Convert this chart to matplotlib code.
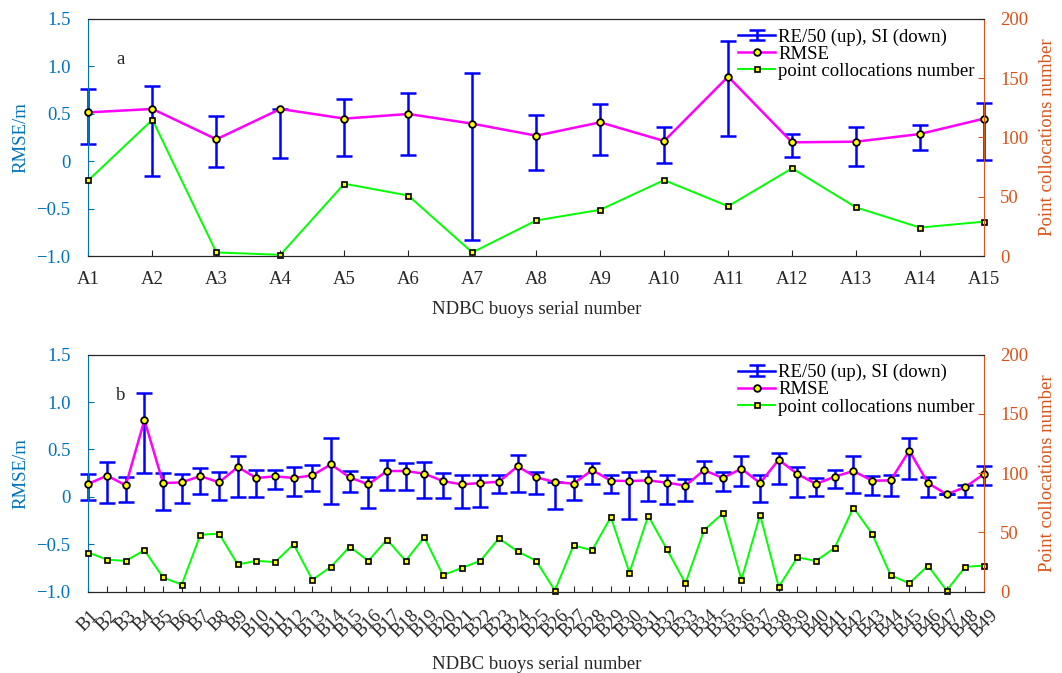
import numpy as np
import matplotlib
matplotlib.use('Agg')
import matplotlib.pyplot as plt
from matplotlib.lines import Line2D
from matplotlib.container import ErrorbarContainer
from matplotlib.legend_handler import HandlerTuple, HandlerErrorbar

plt.rcParams['font.family'] = ['Liberation Serif', 'DejaVu Serif']
plt.rcParams['font.size'] = 13.5

# 颜色 (MATLAB 风格)
C_LEFT = '#0072BD'
C_RIGHT = '#D95319'
C_AX = '#262626'

# ---- (a) A 组浮标 ----
a_names = ['A%d' % i for i in range(1, 16)]
a_rmse = [0.515, 0.551, 0.231, 0.551, 0.449, 0.498, 0.396, 0.269, 0.410, 0.213,
          0.892, 0.199, 0.206, 0.287, 0.449]
a_re_up = [0.243, 0.242, 0.242, 0.0, 0.207, 0.218, 0.534, 0.218, 0.193, 0.151,
           0.376, 0.084, 0.155, 0.095, 0.168]
a_si_down = [0.334, 0.704, 0.296, 0.517, 0.394, 0.429, 1.224, 0.365, 0.348, 0.232,
             0.626, 0.155, 0.260, 0.172, 0.440]
a_count = [64, 115, 3, 1, 61, 51, 3, 30, 39, 64, 42, 74, 41, 24, 29]

# ---- (b) B 组浮标 ----
b_names = ['B%d' % i for i in range(1, 50)]
b_rmse = [0.139, 0.224, 0.122, 0.811, 0.146, 0.153, 0.220, 0.153, 0.315, 0.199,
          0.217, 0.199, 0.227, 0.343, 0.206, 0.132, 0.273, 0.273, 0.245, 0.167,
          0.132, 0.146, 0.160, 0.322, 0.206, 0.157, 0.139, 0.283, 0.171, 0.167,
          0.174, 0.150, 0.118, 0.283, 0.199, 0.297, 0.146, 0.392, 0.241, 0.136,
          0.213, 0.273, 0.171, 0.174, 0.487, 0.146, 0.027, 0.104, 0.241]
b_re_up = [0.099, 0.147, 0.091, 0.288, 0.109, 0.085, 0.088, 0.109, 0.113, 0.084,
           0.066, 0.120, 0.113, 0.274, 0.067, 0.081, 0.116, 0.088, 0.119, 0.088,
           0.099, 0.085, 0.074, 0.120, 0.060, 0.0, 0.081, 0.078, 0.056, 0.099,
           0.099, 0.084, 0.074, 0.099, 0.067, 0.131, 0.085, 0.071, 0.078, 0.067,
           0.067, 0.158, 0.053, 0.053, 0.137, 0.067, 0.0, 0.025, 0.088]
b_si_down = [0.172, 0.289, 0.173, 0.563, 0.285, 0.221, 0.193, 0.186, 0.316, 0.197,
             0.134, 0.186, 0.165, 0.418, 0.155, 0.249, 0.197, 0.200, 0.253, 0.175,
             0.246, 0.249, 0.123, 0.267, 0.172, 0.285, 0.176, 0.151, 0.127, 0.400,
             0.218, 0.225, 0.158, 0.140, 0.134, 0.179, 0.204, 0.256, 0.242, 0.123,
             0.116, 0.232, 0.151, 0.161, 0.295, 0.144, 0.0, 0.102, 0.112]
b_count = [33, 27, 26, 35, 12, 6, 48, 49, 23, 26, 25, 40, 10, 21, 38, 26, 44, 26,
           46, 14, 20, 26, 45, 34, 26, 1, 39, 35, 63, 16, 64, 36, 7, 52, 66, 10,
           65, 4, 29, 26, 37, 71, 49, 14, 7, 22, 1, 21, 22]

y_ticks = [-1.0, -0.5, 0, 0.5, 1.0, 1.5]
y_labels = ['\u22121.0', '\u22120.5', '0', '0.5', '1.0', '1.5']
c_ticks = [0, 50, 100, 150, 200]


def draw_panel(ax, names, rmse, re_up, si_down, count, tag, rot, xlab_y):
    x = np.arange(len(names))
    eb = ax.errorbar(x, rmse, yerr=[si_down, re_up], fmt='none', ecolor='blue',
                     elinewidth=1.8, capsize=6, capthick=1.8, zorder=2, clip_on=False)
    ln_rmse, = ax.plot(x, rmse, '-o', color='magenta', lw=1.8, mfc='yellow',
                       mec='black', ms=4.8, mew=1.3, zorder=3, clip_on=False)
    ax.set_xlim(0, len(names) - 1)
    ax.set_ylim(-1, 1.5)
    ax.set_yticks(y_ticks, labels=y_labels)
    ax.set_xticks(x, labels=names)
    ax.tick_params(axis='y', direction='in', colors=C_LEFT, length=4.3, pad=13)
    ax.tick_params(axis='x', direction='in', colors=C_AX, length=4.3, pad=11)
    if rot:
        plt.setp(ax.get_xticklabels(), rotation=45, ha='center')
    ax.set_ylabel('RMSE/m', color=C_LEFT)
    ax.yaxis.set_label_coords(-0.066, 0.5)
    ax.set_xlabel('NDBC buoys serial number', color=C_AX)
    ax.xaxis.set_label_coords(0.5, xlab_y)
    ax.spines['left'].set_color(C_LEFT)
    ax.spines['right'].set_visible(False)
    ax.text(0.036, 0.827, tag, transform=ax.transAxes, ha='center', va='center', color=C_AX)

    # 右轴: 匹配点数
    ax2 = ax.twinx()
    ln_cnt, = ax2.plot(x, count, '-s', color='#00FF00', lw=1.4, mfc='yellow',
                       mec='black', ms=3.6, mew=1.2, clip_on=False)
    ax2.set_ylim(0, 200)
    ax2.set_yticks(c_ticks)
    ax2.tick_params(axis='y', direction='in', colors=C_RIGHT, length=4.3, pad=11.5)
    ax2.set_ylabel('Point collocations number', color=C_RIGHT)
    ax2.yaxis.set_label_coords(1.061, 0.5)
    ax2.spines['left'].set_visible(False)
    ax2.spines['right'].set_color(C_RIGHT)
    for s in ['top', 'bottom']:
        ax.spines[s].set_color(C_AX)
        ax2.spines[s].set_color(C_AX)

    # 图例: 横线 + 误差棒叠在一起
    blue_ln = Line2D([], [], color='blue', lw=1.8)
    ax2.legend([(blue_ln, eb), ln_rmse, ln_cnt],
               ['RE/50 (up), SI (down)', 'RMSE', 'point collocations number'],
               handler_map={tuple: HandlerTuple(ndivide=1),
                            ErrorbarContainer: HandlerErrorbar(xerr_size=0.3, yerr_size=0.28)},
               loc='upper right', frameon=False, handlelength=2.0,
               handletextpad=0.15, labelspacing=0.0, borderaxespad=0.3,
               borderpad=0.2)


fig = plt.figure(figsize=(10.62, 6.73), dpi=100)
ax_a = fig.add_axes([0.0833, 0.6196, 0.8432, 0.3522])
ax_b = fig.add_axes([0.0833, 0.1208, 0.8432, 0.3522])

draw_panel(ax_a, a_names, a_rmse, a_re_up, a_si_down, a_count, 'a', False, -0.19)
draw_panel(ax_b, b_names, b_rmse, b_re_up, b_si_down, b_count, 'b', True, -0.27)

fig.savefig('out.png', dpi=100)
